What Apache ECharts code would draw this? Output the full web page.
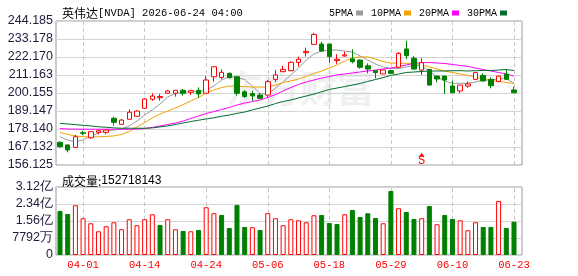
<!DOCTYPE html>
<html><head><meta charset="utf-8">
<script src="https://cdn.jsdelivr.net/npm/echarts@6/dist/echarts.min.js"></script>
<style>html,body{margin:0;padding:0;background:#fff}#c{width:578px;height:276px}</style>
</head><body><div id="c"></div>
<script>
// ---------------- data ----------------
const stockName = '英伟达';
const stockCode = 'NVDA';
const stampTime = '2026-06-24 04:00';
const lastVolume = 152718143;

const dates = ['03-27','03-30','03-31','04-01','04-02','04-06','04-07','04-08','04-09','04-10','04-13','04-14','04-15','04-16','04-17','04-20','04-21','04-22','04-23','04-24','04-27','04-28','04-29','04-30','05-01','05-04','05-05','05-06','05-07','05-08','05-11','05-12','05-13','05-14','05-15','05-18','05-19','05-20','05-21','05-22','05-26','05-27','05-28','05-29','06-01','06-02','06-03','06-04','06-05','06-08','06-09','06-10','06-11','06-12','06-15','06-16','06-17','06-18','06-22','06-23'];

const open  = [170.0,168.4,166.9,175.9,172.8,176.1,176.1,184.7,181.0,184.1,185.9,190.8,196.3,197.3,200.0,200.0,201.8,200.6,201.8,200.0,210.1,209.7,212.2,210.1,200.9,199.8,198.9,198.9,208.5,213.2,213.8,218.9,224.8,229.9,230.1,230.1,220.0,222.8,221.0,220.3,216.8,213.8,211.8,213.8,215.9,227.1,221.4,214.2,214.6,210.5,210.5,204.4,201.4,204.4,208.5,210.9,208.5,207.1,211.7,202.0];
const close = [167.3,165.3,173.4,175.5,176.5,177.1,177.5,182.2,183.6,188.4,189.1,196.5,198.3,198.0,201.4,201.8,200.0,201.6,199.6,208.1,216.2,212.8,209.5,200.0,198.0,198.4,196.9,207.1,211.2,214.6,218.9,220.8,225.6,236.0,225.8,222.4,220.8,223.4,219.3,215.9,214.8,212.6,214.2,212.2,224.4,223.0,214.8,218.7,205.0,208.7,208.1,200.3,205.0,205.7,212.6,207.5,204.6,210.5,208.5,200.3];
const low   = [166.7,163.9,166.9,174.3,172.2,174.8,174.9,180.2,181.0,184.0,185.9,190.8,195.4,195.4,200.0,197.9,198.5,198.9,197.3,200.0,207.1,208.5,209.2,198.5,197.1,195.3,196.5,197.3,206.9,213.2,213.5,216.3,222.4,229.9,225.4,218.7,218.0,222.4,218.3,215.0,212.2,209.1,211.8,211.8,215.4,220.9,214.6,211.2,204.6,206.7,199.5,200.3,200.0,203.4,208.1,207.3,203.0,206.9,208.4,200.3];
const high  = [170.6,168.6,174.5,177.0,176.6,177.3,177.7,185.7,184.3,190.2,189.5,197.1,200.0,199.5,202.0,201.8,202.6,201.6,203.6,210.5,216.2,214.6,212.6,210.4,201.8,201.6,200.0,208.1,214.2,216.8,219.5,222.4,227.9,237.0,231.5,230.1,223.8,225.4,226.9,220.5,218.3,213.8,214.2,214.4,225.2,232.1,222.8,221.4,214.8,210.8,210.8,207.7,205.0,207.1,213.2,212.2,209.7,210.8,214.6,204.0];

const volume = [201900000,188100000,228000000,168400000,145400000,108700000,131700000,150000000,117900000,163800000,136300000,163800000,186700000,137600000,163800000,117900000,110100000,108700000,114700000,218800000,191300000,183500000,123900000,229400000,128500000,127100000,114700000,191300000,168400000,136300000,163800000,159200000,150000000,182100000,183500000,146800000,142200000,186700000,206500000,174300000,191300000,169800000,145400000,293600000,214300000,197300000,165200000,168400000,224800000,140900000,183500000,165200000,159200000,113300000,150000000,128500000,128500000,247800000,123900000,152718143];
const firstVolumeUp = false;

const ma5  = [173.4,171.4,170.4,171.4,173.9,175.7,176.9,177.5,178.1,180.0,183.0,186.7,189.8,193.4,197.7,200.0,200.5,200.9,200.9,202.0,204.4,208.1,210.2,209.6,208.4,204.4,199.8,199.5,203.2,206.9,211.2,215.4,220.3,224.0,225.8,226.4,226.4,225.8,225.2,222.8,220.3,217.9,216.1,215.1,215.1,216.1,217.0,216.7,213.6,209.9,207.5,206.1,206.1,206.1,206.9,208.1,208.1,208.7,209.1,206.1];
const ma10 = [176.0,174.8,173.9,173.4,173.4,173.4,173.6,173.9,174.8,176.6,179.4,182.1,184.9,187.3,189.1,191.0,193.1,195.3,197.4,200.2,202.0,203.5,204.4,204.4,204.1,203.8,203.8,203.8,205.0,206.6,207.5,208.7,210.2,212.1,213.6,215.4,217.3,219.7,221.6,222.2,222.2,220.9,219.4,218.5,218.3,218.3,218.2,217.3,216.1,214.8,213.6,212.7,211.8,210.9,210.0,208.7,207.8,207.2,206.6,206.0];
const ma20 = [178.4,178.1,178.1,178.0,178.0,178.0,178.0,178.0,178.0,178.0,178.1,178.4,179.1,180.0,180.9,181.8,183.0,184.6,186.1,187.6,188.8,190.1,191.3,192.8,194.0,194.9,195.9,197.4,199.2,201.4,203.5,205.4,206.9,208.1,209.3,210.2,211.2,211.8,212.4,213.0,213.6,214.2,214.8,215.4,216.4,217.3,218.2,218.7,218.8,218.5,218.2,217.6,217.0,216.4,215.4,214.5,213.6,212.7,211.8,210.5];
const ma30 = [181.6,181.2,180.8,180.4,180.0,179.5,179.2,178.8,178.6,178.6,178.6,178.6,178.8,179.4,180.0,180.9,181.8,182.7,183.5,184.3,185.0,185.9,186.7,187.7,188.5,189.8,191.0,192.2,193.7,195.0,195.9,197.1,198.3,199.5,200.9,202.3,203.2,204.1,205.0,206.0,207.2,208.4,209.6,210.9,211.8,212.7,213.0,213.3,213.6,213.6,213.6,213.8,213.8,213.6,213.8,213.9,213.9,214.2,214.5,213.9];

const maNames = ['5PMA','10PMA','20PMA','30PMA'];
const priceTicks = ['156.125','167.132','178.140','189.147','200.155','211.163','222.170','233.178','244.185'];
const volumeTicks = ['0','7792万','1.56亿','2.34亿','3.12亿'];
const volumeTickValues = [0, 77920000, 155840000, 233760000, 311680000];
const dateTickLabels = ['04-01','04-14','04-24','05-06','05-18','05-29','06-10','06-23'];
const signals = [{date:'06-04', text:'S'}];

// ---------------- chart ----------------
const RED = '#ff0000', GREEN = '#008000';
const maColors = ['#999999','#f5a300','#ff00ff','#006e2e'];
const priceMin = parseFloat(priceTicks[0]);
const priceMax = parseFloat(priceTicks[priceTicks.length-1]);
const priceStep = (priceMax - priceMin) / (priceTicks.length - 1);
const volStep = volumeTickValues[1];
const labelIdx = dateTickLabels.map(d => dates.indexOf(d));

const candleData = dates.map((d,i) => [i, open[i], close[i], low[i], high[i]]);
const volData = dates.map((d,i) => {
  const up = i === 0 ? firstVolumeUp : close[i] >= close[i-1];
  return {value:[i, volume[i]], itemStyle: up ? {color:'#fff', borderColor:RED, borderWidth:1} : {color:GREEN, borderColor:GREEN, borderWidth:1}};
});
const maSeries = [ma5, ma10, ma20, ma30].map((arr, k) => ({
  name: maNames[k], type:'line', xAxisIndex:0, yAxisIndex:0,
  data: arr.map((v,i) => [i, v]), showSymbol:false, symbol:'none', z:2,
  lineStyle:{width:1, color:maColors[k]}, itemStyle:{color:maColors[k]}, silent:true
}));
const dashLines = {symbol:'none', silent:true, z:1, label:{show:false}, animation:false,
  lineStyle:{type:[4,3], color:'#c8c8c8', width:1}, data: labelIdx.map(i => ({xAxis:i}))};

const xCommon = {type:'value', min:-0.52, max:60.04, axisLine:{show:false}, axisTick:{show:false}, splitLine:{show:false}};
const yLabelStyle = {color:'#1c1c3c', fontFamily:'Liberation Sans', fontSize:12.5, margin:3};

const option = {
  animation:false,
  backgroundColor:'#fff',
  title:[
    {text:'{a|'+stockName+'}{b|['+stockCode+'] '+stampTime+'}', left:57, top:2,
     textStyle:{fontWeight:'normal', rich:{a:{fontFamily:'Noto Sans CJK SC', fontSize:12, fontWeight:'normal', color:'#000'}, b:{fontFamily:'Liberation Mono', fontSize:10.5, fontWeight:'normal', color:'#000'}}}},
    {text:'{a|成交量:}{b|'+lastVolume+'}', left:57, top:170,
     textStyle:{fontWeight:'normal', rich:{a:{fontFamily:'Noto Sans CJK SC', fontSize:12, fontWeight:'normal', color:'#000'}, b:{fontFamily:'Liberation Sans', fontSize:12, fontWeight:'normal', color:'#000'}}}}
  ],
  legend:{data:maNames, right:66, top:3, icon:'rect', itemWidth:7, itemHeight:5, itemGap:8, align:'right',
    textStyle:{fontFamily:'Liberation Mono', fontSize:10, color:'#000', padding:[0,-2,0,0]}, selectedMode:false},
  graphic:[{type:'text', left:226, top:70, z:-1, silent:true,
    style:{text:'东方财富', fill:'rgba(170,178,190,0.2)', font:'bold 37px "Noto Sans CJK SC"'}}],
  grid:[
    {left:56, top:21, width:466, height:144, show:true, borderColor:'#999', borderWidth:1, backgroundColor:'transparent'},
    {left:56, top:187, width:466, height:68, show:true, borderColor:'#999', borderWidth:1, backgroundColor:'transparent'}
  ],
  xAxis:[
    Object.assign({gridIndex:0, axisLabel:{show:false}}, xCommon),
    Object.assign({gridIndex:1, axisLabel:{show:true, customValues:labelIdx, formatter:v => dates[Math.round(v)] || '',
      color:RED, fontFamily:'Liberation Mono', fontSize:10.5, margin:5}}, xCommon)
  ],
  yAxis:[
    {type:'value', gridIndex:0, min:priceMin, max:priceMax, interval:priceStep, axisLine:{show:false}, axisTick:{show:false},
     splitLine:{lineStyle:{color:'#d4d4d4'}},
     axisLabel:Object.assign({formatter:v => priceTicks[Math.round((v-priceMin)/priceStep)]}, yLabelStyle)},
    {type:'value', gridIndex:1, min:0, max:volumeTickValues[volumeTickValues.length-1], interval:volStep, axisLine:{show:false}, axisTick:{show:false},
     splitLine:{lineStyle:{color:'#d4d4d4'}},
     axisLabel:Object.assign({formatter:v => volumeTicks[Math.round(v/volStep)]}, yLabelStyle)}
  ],
  series:[
    ...maSeries,
    {type:'candlestick', name:'K', xAxisIndex:0, yAxisIndex:0, data:candleData, encode:{x:0, y:[1,2,3,4]},
     barWidth:5, z:3,
     itemStyle:{color:'#fff', color0:GREEN, borderColor:RED, borderColor0:GREEN, borderWidth:1},
     markLine:dashLines,
     markPoint:{silent:true, animation:false, data: signals.flatMap(s => {
        const i = dates.indexOf(s.date);
        return [
          {coord:[i, priceMin + 10.3*priceStep/18], symbol:'triangle', symbolSize:[5,4], itemStyle:{color:RED}, label:{show:false}},
          {coord:[i, priceMin + 4.6*priceStep/18], symbol:'rect', symbolSize:1, itemStyle:{color:'transparent'},
           label:{show:true, position:'inside', formatter:s.text, color:RED, fontFamily:'Liberation Mono', fontSize:12}}
        ];
     })}},
    {type:'bar', name:'VOL', xAxisIndex:1, yAxisIndex:1, data:volData, barWidth:5, z:3, markLine:dashLines}
  ]
};
const chart = echarts.init(document.getElementById('c'), null, {renderer:'canvas'});
chart.setOption(option);
</script></body></html>
